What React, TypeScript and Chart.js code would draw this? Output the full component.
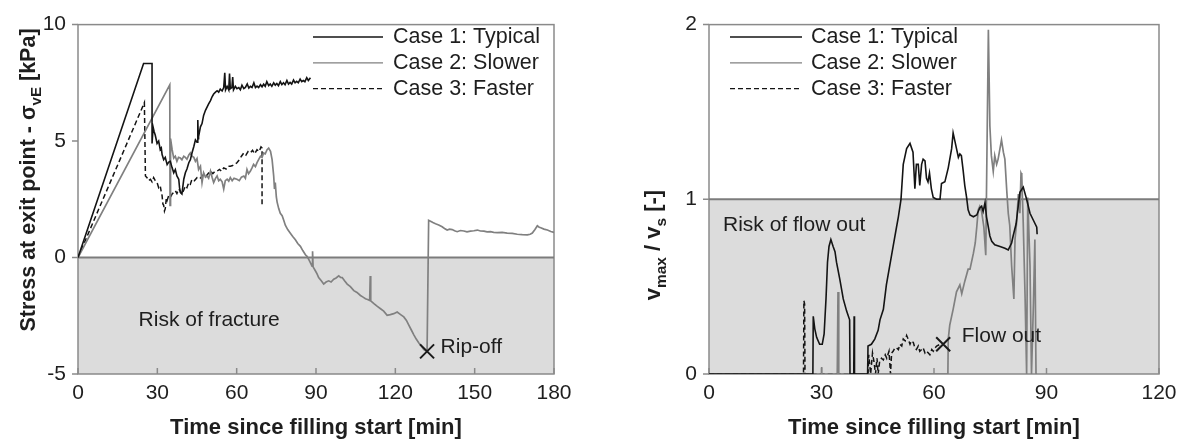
import React, { useEffect, useRef } from "react";
import { Chart, registerables } from "chart.js";

Chart.register(...registerables);

const FONT = "'Liberation Sans', Arial, Helvetica, sans-serif";
const TEXT = "#1e1e1e";
const FRAME = "#8a8a8a";
const SHADE = "#dcdcdc";
const BLACK = "#141414";
const GRAY = "#808080";

const seriesNames = ["Case 1: Typical", "Case 2: Slower", "Case 3: Faster"];

// ---------- Left chart: stress at exit point ----------
const stressXTicks = [0, 30, 60, 90, 120, 150, 180];
const stressYTicks = [-5, 0, 5, 10];

const stressCase1: [number, number][] = [
  [0, 0], [24.8, 8.33], [28.0, 8.33], [28.0, 4.9], [28.4, 5.6], [28.8, 5.4], [29.2, 5.26], [29.9, 4.9],
  [30.5, 5.0], [31.1, 4.63], [31.5, 4.7], [31.8, 4.42], [32.4, 4.2], [33.0, 4.3], [33.7, 3.99], [34.3, 4.1],
  [34.9, 4.13], [35.6, 3.85], [36.2, 3.64], [36.8, 3.78], [37.4, 3.5], [38.1, 3.36], [38.4, 3.0], [38.7, 2.8],
  [39.3, 2.73], [39.6, 3.0], [40.0, 3.36], [40.6, 3.64], [41.2, 3.8], [41.9, 4.07], [42.5, 4.2], [43.1, 4.49],
  [43.8, 4.77], [44.4, 5.05], [45.0, 4.95], [45.3, 5.9], [45.5, 5.1], [45.6, 5.19], [46.3, 5.61], [46.9, 5.75],
  [47.5, 6.1], [48.2, 6.32], [48.8, 6.46], [49.4, 6.6], [50.1, 6.74], [50.7, 6.9], [51.3, 7.02], [52.0, 7.1],
  [52.6, 7.16], [53.2, 7.1], [53.8, 7.23], [54.5, 7.15], [55.1, 7.3], [55.5, 7.93], [55.8, 7.2], [56.4, 7.35],
  [57.0, 7.2], [57.3, 7.9], [57.6, 7.25], [58.2, 7.3], [58.5, 7.75], [58.8, 7.2], [59.5, 7.35], [60.1, 7.25],
  [60.8, 7.3], [61.4, 7.2], [62.0, 7.4], [62.7, 7.25], [63.3, 7.3], [64.0, 7.45], [64.6, 7.28], [65.2, 7.35],
  [65.8, 7.3], [66.5, 7.5], [67.1, 7.3], [67.7, 7.36], [68.3, 7.3], [69.0, 7.42], [69.6, 7.33], [70.2, 7.44],
  [70.8, 7.35], [71.4, 7.55], [72.1, 7.38], [72.7, 7.45], [73.3, 7.35], [74.0, 7.5], [74.6, 7.4], [75.2, 7.47],
  [75.8, 7.38], [76.5, 7.55], [77.1, 7.42], [77.7, 7.5], [78.3, 7.42], [79.0, 7.6], [79.6, 7.45], [80.2, 7.52],
  [80.8, 7.45], [81.5, 7.62], [82.1, 7.5], [82.7, 7.56], [83.3, 7.5], [84.0, 7.66], [84.6, 7.55], [85.2, 7.6],
  [85.8, 7.55], [86.5, 7.72], [87.1, 7.6], [87.9, 7.72],
];

const stressCase2: [number, number][] = [
  [0, 0], [34.7, 7.41], [34.8, 2.24], [35.0, 5.1], [35.6, 4.63], [36.2, 4.27], [36.8, 4.35], [37.4, 4.13],
  [38.0, 4.3], [38.7, 4.27], [39.3, 4.2], [40.0, 4.35], [40.6, 4.3], [41.2, 4.22], [41.9, 4.4], [42.5, 4.49],
  [43.1, 4.35], [43.8, 4.3], [44.4, 4.13], [45.0, 4.25], [45.6, 3.78], [46.3, 3.92], [46.9, 3.22], [47.5, 3.64],
  [48.2, 3.45], [48.8, 3.5], [49.4, 3.4], [50.1, 3.71], [50.7, 3.45], [51.3, 3.22], [52.0, 3.4], [52.6, 3.5],
  [53.2, 3.3], [53.8, 3.36], [54.5, 3.25], [55.1, 2.94], [55.7, 3.3], [56.4, 3.36], [57.0, 3.28], [57.6, 3.43],
  [58.3, 3.3], [59.0, 3.4], [60.1, 3.36], [61.0, 3.3], [61.8, 3.45], [62.7, 3.5], [63.3, 3.4], [63.9, 3.78],
  [64.5, 3.6], [65.2, 3.71], [65.8, 3.85], [66.4, 4.0], [67.1, 3.9], [67.7, 4.07], [68.3, 4.2], [69.0, 4.35],
  [69.6, 4.3], [70.2, 4.49], [70.8, 4.45], [71.5, 4.63], [72.1, 4.7], [72.8, 4.56], [73.4, 4.2], [74.0, 3.5],
  [74.3, 2.94], [74.6, 3.22], [75.0, 2.6], [75.3, 2.38], [75.9, 2.1], [76.5, 1.9], [77.2, 1.8], [77.8, 1.6],
  [78.4, 1.39], [79.3, 1.2], [80.3, 1.04], [81.2, 0.9], [82.2, 0.76], [83.1, 0.6], [84.1, 0.48], [85.0, 0.3],
  [86.0, 0.12], [86.6, 0.05], [87.3, -0.09], [88.0, -0.25], [88.5, -0.37], [88.7, 0.27], [88.9, -0.4],
  [89.8, -0.58], [90.4, -0.7], [91.0, -0.86], [92.0, -1.0], [92.9, -1.14], [93.8, -1.05], [94.8, -1.0],
  [95.7, -1.05], [96.7, -0.93], [97.6, -0.88], [98.6, -0.79], [99.3, -0.85], [99.9, -0.86], [100.8, -1.0],
  [101.8, -1.14], [103.0, -1.25], [104.3, -1.42], [105.5, -1.5], [106.8, -1.63], [107.8, -1.7], [108.7, -1.77],
  [109.5, -1.8], [110.3, -1.84], [110.5, -0.79], [110.7, -1.86], [111.9, -1.98], [113.2, -2.1], [114.4, -2.2],
  [115.6, -2.3], [116.9, -2.48], [118.1, -2.45], [119.4, -2.41], [120.7, -2.34], [122.0, -2.45], [123.2, -2.55],
  [124.2, -2.7], [125.1, -2.9], [126.0, -3.1], [127.0, -3.32], [127.9, -3.5], [128.9, -3.67], [129.8, -3.8],
  [130.8, -3.95], [132.0, -4.03], [132.6, 1.6], [133.3, 1.56], [134.2, 1.5], [135.2, 1.45], [136.4, 1.4],
  [137.7, 1.32], [138.6, 1.25], [139.6, 1.18], [140.5, 1.22], [141.5, 1.2], [142.4, 1.15], [143.4, 1.11],
  [144.6, 1.16], [145.9, 1.14], [147.1, 1.1], [148.4, 1.13], [149.7, 1.15], [151.0, 1.18], [152.2, 1.14],
  [153.5, 1.13], [154.7, 1.1], [156.0, 1.11], [157.2, 1.08], [158.5, 1.07], [160.4, 1.08], [162.3, 1.05],
  [164.2, 1.04], [166.1, 1.0], [168.0, 0.98], [169.9, 0.97], [171.0, 1.0], [171.8, 1.05], [172.8, 1.2],
  [173.7, 1.36], [174.4, 1.3], [175.0, 1.28], [176.2, 1.22], [177.5, 1.18], [178.8, 1.12], [180, 1.08],
];

const stressCase3: [number, number][] = [
  [0, 0], [25.1, 6.65], [25.5, 3.5], [26.1, 3.43], [26.7, 3.3], [27.4, 3.36], [28.0, 3.25], [28.6, 3.43],
  [29.2, 3.3], [29.9, 3.22], [30.5, 3.0], [31.1, 3.08], [31.5, 2.8], [31.8, 2.66], [32.1, 2.3], [32.4, 2.24],
  [32.7, 2.0], [33.0, 2.1], [33.4, 2.55], [33.7, 2.45], [34.3, 2.66], [35.0, 2.6], [35.6, 2.73], [36.2, 2.8],
  [36.8, 2.87], [37.4, 2.75], [38.1, 2.94], [38.7, 2.85], [39.3, 2.73], [40.0, 2.9], [40.6, 3.08], [41.2, 3.0],
  [41.9, 3.22], [42.5, 3.15], [43.1, 3.36], [44.0, 3.3], [45.0, 3.43], [46.0, 3.38], [47.0, 3.5], [47.5, 3.57],
  [48.5, 3.5], [49.3, 3.62], [50.1, 3.71], [51.0, 3.6], [51.8, 3.7], [52.6, 3.71], [53.5, 3.78], [54.3, 3.7],
  [55.1, 3.85], [56.0, 3.8], [56.8, 3.92], [57.6, 3.92], [58.5, 3.95], [59.3, 4.0], [60.1, 4.07], [61.0, 4.2],
  [61.8, 4.35], [62.7, 4.49], [63.5, 4.4], [64.3, 4.55], [65.2, 4.49], [66.0, 4.6], [66.8, 4.45], [67.7, 4.63],
  [68.5, 4.55], [69.2, 4.75], [69.6, 4.7], [69.6, 2.24],
];

const ripOffPoint: [number, number] = [132.0, -4.03];

// ---------- Right chart: vmax / vs ----------
const ratioXTicks = [0, 30, 60, 90, 120];
const ratioYTicks = [0, 1, 2];

const ratioCase1: [number, number][] = [
  [0, 0], [27.7, 0], [27.8, 0.33], [28.2, 0.26], [28.7, 0.21], [29.5, 0.17], [30.2, 0.17], [30.7, 0.23],
  [31.2, 0.43], [31.6, 0.64], [32.0, 0.73], [32.5, 0.77], [33.1, 0.73], [33.6, 0.7], [34.0, 0.64], [34.9, 0.54],
  [35.8, 0.43], [36.7, 0.36], [37.5, 0.31], [37.6, 0], [38.6, 0], [38.7, 0.33], [38.8, 0], [42.3, 0],
  [42.4, 0.16], [43.3, 0.17], [44.2, 0.2], [45.1, 0.25], [45.6, 0.31], [46.5, 0.37], [47.3, 0.51], [48.2, 0.62],
  [49.1, 0.73], [50.0, 0.84], [50.5, 0.9], [51.2, 1.0], [51.8, 1.2], [52.7, 1.29], [53.6, 1.32], [54.4, 1.27],
  [54.9, 1.06], [55.3, 1.2], [55.8, 1.2], [56.2, 1.08], [56.7, 1.2], [57.1, 1.23], [57.6, 1.22], [58.0, 1.12],
  [58.4, 1.1], [58.8, 1.15], [59.3, 1.06], [59.8, 1.01], [60.7, 1.0], [61.6, 1.0], [62.0, 1.09], [62.9, 1.1],
  [63.8, 1.18], [64.7, 1.29], [65.1, 1.38], [65.6, 1.33], [66.1, 1.28], [66.5, 1.24], [66.9, 1.26], [67.3, 1.25],
  [67.8, 1.16], [68.2, 1.08], [68.7, 1.01], [69.1, 0.94], [69.6, 0.91], [70.5, 0.9], [71.4, 0.91], [72.2, 0.95],
  [72.7, 0.96], [73.1, 0.93], [73.6, 0.98], [74.0, 0.9], [74.5, 0.84], [74.9, 0.79], [75.4, 0.76], [76.2, 0.74],
  [77.6, 0.73], [78.9, 0.72], [79.8, 0.71], [80.7, 0.75], [81.1, 0.79], [81.9, 0.86], [82.5, 0.97], [82.9, 1.04],
  [83.8, 1.07], [84.7, 1.0], [85.6, 0.92], [86.5, 0.88], [87.4, 0.84], [87.5, 0.8],
];

const ratioCase2: [number, number][] = [
  [0, 0], [29.9, 0], [30.0, 0.04], [30.1, 0], [34.2, 0], [34.4, 0.47], [34.6, 0], [63.7, 0], [63.8, 0.2],
  [64.2, 0.28], [65.1, 0.37], [66.0, 0.47], [66.9, 0.51], [67.4, 0.46], [68.2, 0.53], [69.1, 0.6], [69.6, 0.6],
  [70.5, 0.69], [71.0, 0.75], [71.4, 0.84], [71.8, 0.94], [72.2, 0.96], [72.7, 0.93], [73.3, 0.84], [73.8, 0.68],
  [74.5, 1.97], [74.9, 1.42], [75.3, 1.25], [75.8, 1.16], [76.2, 1.25], [76.7, 1.2], [77.1, 1.23], [78.0, 1.34],
  [78.5, 1.27], [78.9, 1.23], [79.4, 1.05], [79.8, 0.92], [80.2, 0.85], [80.7, 0.62], [81.3, 0.43], [81.6, 0.77],
  [82.0, 0.86], [82.5, 1.03], [82.9, 0.92], [83.2, 1.15], [83.4, 1.14], [83.8, 0.86], [84.3, 0.43], [84.7, 0],
  [85.0, 1.01], [85.6, 0.62], [86.0, 0], [86.5, 0.39], [86.9, 0.77], [87.2, 0], [87.5, 0],
];

const ratioCase3: [number, number][] = [
  [0, 0], [25.2, 0], [25.3, 0.42], [25.5, 0.4], [25.6, 0], [42.4, 0], [42.6, 0.11], [43.1, 0], [43.6, 0.12],
  [44.0, 0.07], [44.4, 0], [44.8, 0.09], [45.1, 0], [45.5, 0.07], [46.0, 0.09], [46.5, 0.08], [47.0, 0.11],
  [47.4, 0.09], [48.0, 0.13], [48.4, 0], [48.7, 0.12], [49.1, 0.13], [49.6, 0.15], [50.0, 0.15], [50.5, 0.14],
  [50.9, 0.17], [51.4, 0.16], [51.8, 0.2], [52.3, 0.19], [52.7, 0.22], [53.1, 0.2], [53.6, 0.17], [54.0, 0.19],
  [54.5, 0.18], [54.9, 0.15], [55.3, 0.14], [55.8, 0.16], [56.2, 0.13], [56.7, 0.14], [57.1, 0.15], [57.6, 0.12],
  [58.0, 0.13], [58.5, 0.12], [58.9, 0.11], [59.4, 0.14], [59.8, 0.13], [60.3, 0.15], [60.7, 0.16], [61.6, 0.17],
  [62.4, 0.17],
];

const flowOutPoint: [number, number] = [62.45, 0.17];

// ---------- styling helpers ----------
const seriesStyles = [
  { color: BLACK, dash: [] as number[], width: 1.6 },
  { color: GRAY, dash: [] as number[], width: 1.7 },
  { color: BLACK, dash: [5, 3], width: 1.5 },
];

type Seg = { t: string; sub?: boolean };

interface DecorCfg {
  id: string;
  shade: [number, number];
  refValue: number;
  xTicks: number[];
  yTicks: number[];
  legendX0: number;
  legendX1: number;
  legendTextX: number;
  legendY0: number;
  legendDy: number;
  notes: { text: string; x: number; y: number }[];
  marker: [number, number];
  xTitle: string;
  xTitleY: number;
  yTitle: Seg[];
  yTitleX: number;
  yTitleY: number;
  yTitleSize: number;
}

function drawYTitle(ctx: CanvasRenderingContext2D, segs: Seg[], cx: number, cy: number, size: number) {
  ctx.save();
  ctx.translate(cx, cy);
  ctx.rotate(-Math.PI / 2);
  const subSize = size * 0.7;
  let total = 0;
  const widths: number[] = [];
  for (const s of segs) {
    ctx.font = `bold ${s.sub ? subSize : size}px ${FONT}`;
    const w = ctx.measureText(s.t).width;
    widths.push(w);
    total += w;
  }
  let x = -total / 2;
  const base = size * 0.36;
  ctx.fillStyle = TEXT;
  ctx.textAlign = "left";
  ctx.textBaseline = "alphabetic";
  segs.forEach((s, i) => {
    ctx.font = `bold ${s.sub ? subSize : size}px ${FONT}`;
    ctx.fillText(s.t, x, s.sub ? base + size * 0.28 : base);
    x += widths[i];
  });
  ctx.restore();
}

function makeDecor(cfg: DecorCfg) {
  return {
    id: cfg.id,
    beforeDatasetsDraw(chart: any) {
      const { ctx, chartArea: a, scales } = chart;
      const x = scales.x;
      const y = scales.y;
      ctx.save();
      const yt = y.getPixelForValue(cfg.shade[1]);
      const yb = y.getPixelForValue(cfg.shade[0]);
      ctx.fillStyle = SHADE;
      ctx.fillRect(a.left, yt, a.right - a.left, yb - yt);

      ctx.strokeStyle = FRAME;
      ctx.lineWidth = 1.5;
      ctx.strokeRect(a.left, a.top, a.right - a.left, a.bottom - a.top);

      ctx.beginPath();
      for (const v of cfg.yTicks) {
        const py = y.getPixelForValue(v);
        ctx.moveTo(a.left - 6, py);
        ctx.lineTo(a.left, py);
      }
      for (const v of cfg.xTicks) {
        const px = x.getPixelForValue(v);
        ctx.moveTo(px, a.bottom);
        ctx.lineTo(px, a.bottom - 6);
      }
      ctx.stroke();

      const pr = y.getPixelForValue(cfg.refValue);
      ctx.strokeStyle = "#7c7c7c";
      ctx.lineWidth = 2;
      ctx.beginPath();
      ctx.moveTo(a.left, pr);
      ctx.lineTo(a.right, pr);
      ctx.stroke();
      ctx.restore();
    },
    afterDatasetsDraw(chart: any) {
      const { ctx, chartArea: a, scales } = chart;
      const x = scales.x;
      const y = scales.y;
      ctx.save();
      // annotations
      ctx.fillStyle = TEXT;
      ctx.font = `21px ${FONT}`;
      ctx.textAlign = "left";
      ctx.textBaseline = "middle";
      for (const n of cfg.notes) {
        ctx.fillText(n.text, x.getPixelForValue(n.x), y.getPixelForValue(n.y));
      }
      // marker
      const mx = x.getPixelForValue(cfg.marker[0]);
      const my = y.getPixelForValue(cfg.marker[1]);
      ctx.strokeStyle = "#1a1a1a";
      ctx.lineWidth = 2;
      ctx.beginPath();
      ctx.moveTo(mx - 7, my - 7);
      ctx.lineTo(mx + 7, my + 7);
      ctx.moveTo(mx + 7, my - 7);
      ctx.lineTo(mx - 7, my + 7);
      ctx.stroke();

      // legend
      ctx.font = `21.5px ${FONT}`;
      seriesNames.forEach((name, i) => {
        const st = seriesStyles[i];
        const ly = cfg.legendY0 + i * cfg.legendDy;
        ctx.strokeStyle = st.color;
        ctx.lineWidth = 1.3;
        ctx.setLineDash(st.dash);
        ctx.beginPath();
        ctx.moveTo(cfg.legendX0, ly);
        ctx.lineTo(cfg.legendX1, ly);
        ctx.stroke();
        ctx.setLineDash([]);
        ctx.fillStyle = TEXT;
        ctx.fillText(name, cfg.legendTextX, ly);
      });

      // x title
      ctx.font = `bold 22px ${FONT}`;
      ctx.textAlign = "center";
      ctx.textBaseline = "middle";
      ctx.fillText(cfg.xTitle, (a.left + a.right) / 2, cfg.xTitleY);
      ctx.restore();

      drawYTitle(ctx, cfg.yTitle, cfg.yTitleX, cfg.yTitleY, cfg.yTitleSize);
    },
  };
}

function toXY(arr: [number, number][]) {
  return arr.map(([t, v]) => ({ x: t, y: v }));
}

function buildChart(
  canvas: HTMLCanvasElement,
  series: [number, number][][],
  xMax: number,
  yMin: number,
  yMax: number,
  xTicks: number[],
  yTicks: number[],
  yAxisWidth: number,
  padding: { top: number; right: number },
  decor: any
) {
  const tickFont = { family: FONT, size: 21 };
  return new Chart(canvas, {
    type: "line",
    data: {
      datasets: series.map((s, i) => ({
        label: seriesNames[i],
        data: toXY(s),
        borderColor: seriesStyles[i].color,
        borderWidth: seriesStyles[i].width,
        borderDash: seriesStyles[i].dash,
        pointRadius: 0,
        tension: 0,
        fill: false,
      })),
    },
    options: {
      responsive: false,
      animation: false,
      events: [],
      layout: { padding: { top: padding.top, right: padding.right, bottom: 0, left: 0 } },
      plugins: { legend: { display: false }, tooltip: { enabled: false } },
      scales: {
        x: {
          type: "linear",
          min: 0,
          max: xMax,
          grid: { display: false, drawTicks: false },
          border: { display: false },
          afterBuildTicks: (s: any) => {
            s.ticks = xTicks.map((v) => ({ value: v }));
          },
          afterFit: (s: any) => {
            s.height = 66;
          },
          ticks: { font: tickFont, color: TEXT, padding: 7, maxRotation: 0, autoSkip: false },
        },
        y: {
          type: "linear",
          min: yMin,
          max: yMax,
          grid: { display: false, drawTicks: false },
          border: { display: false },
          afterBuildTicks: (s: any) => {
            s.ticks = yTicks.map((v) => ({ value: v }));
          },
          afterFit: (s: any) => {
            s.width = yAxisWidth;
          },
          ticks: { font: tickFont, color: TEXT, padding: 12 },
        },
      },
    } as any,
    plugins: [decor],
  });
}

function StressChart() {
  const ref = useRef<HTMLCanvasElement>(null);
  useEffect(() => {
    const decor = makeDecor({
      id: "stressDecor",
      shade: [-5, 0],
      refValue: 0,
      xTicks: stressXTicks,
      yTicks: stressYTicks,
      legendX0: 313,
      legendX1: 383,
      legendTextX: 393,
      legendY0: 37,
      legendDy: 25.8,
      notes: [
        { text: "Risk of fracture", x: 22.9, y: -2.69 },
        { text: "Rip-off", x: 137.1, y: -3.83 },
      ],
      marker: ripOffPoint,
      xTitle: "Time since filling start [min]",
      xTitleY: 428,
      yTitle: [{ t: "Stress at exit point - σ" }, { t: "vE", sub: true }, { t: " [kPa]" }],
      yTitleX: 27,
      yTitleY: 180,
      yTitleSize: 21.5,
    });
    const chart = buildChart(
      ref.current!,
      [stressCase1, stressCase2, stressCase3],
      180,
      -5,
      10,
      stressXTicks,
      stressYTicks,
      78,
      { top: 18, right: 46 },
      decor
    );
    return () => chart.destroy();
  }, []);
  return (
    <canvas
      ref={ref}
      width={600}
      height={440}
      style={{ position: "absolute", left: 0, top: 0, width: 600, height: 440 }}
    />
  );
}

function RatioChart() {
  const ref = useRef<HTMLCanvasElement>(null);
  useEffect(() => {
    const decor = makeDecor({
      id: "ratioDecor",
      shade: [0, 1],
      refValue: 1,
      xTicks: ratioXTicks,
      yTicks: ratioYTicks,
      legendX0: 130,
      legendX1: 202,
      legendTextX: 211,
      legendY0: 37,
      legendDy: 25.8,
      notes: [
        { text: "Risk of flow out", x: 3.74, y: 0.852 },
        { text: "Flow out", x: 67.4, y: 0.218 },
      ],
      marker: flowOutPoint,
      xTitle: "Time since filling start [min]",
      xTitleY: 428,
      yTitle: [{ t: "v" }, { t: "max", sub: true }, { t: " / v" }, { t: "s", sub: true }, { t: " [-]" }],
      yTitleX: 52,
      yTitleY: 245,
      yTitleSize: 22,
    });
    const chart = buildChart(
      ref.current!,
      [ratioCase1, ratioCase2, ratioCase3],
      120,
      0,
      2,
      ratioXTicks,
      ratioYTicks,
      109,
      { top: 17, right: 25 },
      decor
    );
    return () => chart.destroy();
  }, []);
  return (
    <canvas
      ref={ref}
      width={584}
      height={440}
      style={{ position: "absolute", left: 600, top: 0, width: 584, height: 440 }}
    />
  );
}

export default function App() {
  return (
    <div
      style={{
        position: "fixed",
        left: 0,
        top: 0,
        width: 1184,
        height: 440,
        background: "#ffffff",
        overflow: "hidden",
      }}
    >
      <StressChart />
      <RatioChart />
    </div>
  );
}
